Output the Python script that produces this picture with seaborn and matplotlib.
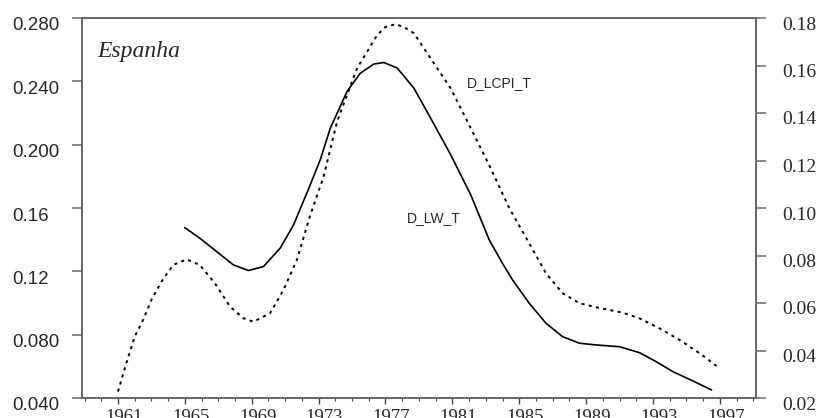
import numpy as np
import pandas as pd
import matplotlib
matplotlib.use("Agg")
import matplotlib.pyplot as plt
import matplotlib.transforms as mtransforms
import seaborn as sns

# D_LW_T (left axis)
lw_years = [1965.0, 1965.9, 1966.9, 1967.9, 1968.8, 1969.7, 1970.7, 1971.5, 1972.4,
            1973.1, 1973.7, 1974.7, 1975.5, 1976.3, 1976.9, 1977.7, 1978.7, 1979.7,
            1980.9, 1982.1, 1983.2, 1984.0, 1984.6, 1985.6, 1986.6, 1987.6, 1988.6,
            1989.6, 1991.0, 1992.2, 1993.2, 1994.2, 1995.4, 1996.5]
lw_values = [0.1476, 0.1409, 0.1325, 0.1241, 0.1205, 0.1230, 0.1346, 0.1493, 0.1720,
             0.1905, 0.2104, 0.2336, 0.2452, 0.2509, 0.2519, 0.2484, 0.2357, 0.2168,
             0.1936, 0.1683, 0.1400, 0.1250, 0.1146, 0.0998, 0.0872, 0.0787, 0.0746,
             0.0735, 0.0724, 0.0686, 0.0629, 0.0566, 0.0507, 0.0451]

# D_LCPI_T (right axis)
cpi_years = [1961.0, 1961.5, 1962.0, 1962.5, 1963.0, 1963.6, 1964.3, 1965.1, 1965.9,
             1966.8, 1967.7, 1968.5, 1969.1, 1970.1, 1970.9, 1971.7, 1972.5, 1973.3,
             1974.1, 1975.3, 1976.5, 1977.0, 1977.6, 1978.1, 1978.7, 1979.7, 1980.9,
             1982.1, 1983.2, 1984.4, 1985.6, 1986.6, 1987.6, 1988.6, 1989.6, 1991.2,
             1992.2, 1993.4, 1994.6, 1995.8, 1996.8]
cpi_values = [0.0227, 0.0346, 0.0458, 0.0528, 0.0613, 0.0690, 0.0760, 0.0784, 0.0760,
              0.0683, 0.0585, 0.0536, 0.0521, 0.0557, 0.0655, 0.0781, 0.0970, 0.1132,
              0.1363, 0.1588, 0.1728, 0.1762, 0.1774, 0.1762, 0.1736, 0.1630, 0.1504,
              0.1336, 0.1181, 0.1000, 0.0851, 0.0725, 0.0641, 0.0599, 0.0582, 0.0559,
              0.0535, 0.0493, 0.0444, 0.0388, 0.0335]

left_ticks = [0.04, 0.08, 0.12, 0.16, 0.20, 0.24, 0.28]
left_labels = ["0.040", "0.080", "0.12", "0.16", "0.200", "0.240", "0.280"]
right_ticks = [0.02, 0.04, 0.06, 0.08, 0.10, 0.12, 0.14, 0.16, 0.18]
right_labels = ["0.02", "0.04", "0.06", "0.08", "0.10", "0.12", "0.14", "0.16", "0.18"]
year_ticks = list(range(1961, 1998, 4))

sns.set_style("white")
plt.rcParams['font.family'] = ['Liberation Sans', 'DejaVu Sans']

fig = plt.figure(figsize=(8.21, 4.18), dpi=100)
ax = fig.add_axes([82 / 821, 1 - 398 / 418, (756 - 82) / 821, (398 - 18) / 418])
ax2 = ax.twinx()

lw_df = pd.DataFrame({"year": lw_years, "value": lw_values})
cpi_df = pd.DataFrame({"year": cpi_years, "value": cpi_values})

sns.lineplot(data=lw_df, x="year", y="value", ax=ax, color="black", linewidth=1.2)
sns.lineplot(data=cpi_df, x="year", y="value", ax=ax2, color="black", linewidth=1.4,
             linestyle=(0, (1.6, 2.2)))

ax.set_xlim(1958.85, 1999.16)
ax.set_ylim(0.04, 0.28)
ax2.set_ylim(0.02, 0.18)
spine_grey = "#666666"
for a in (ax, ax2):
    a.set_xlabel("")
    a.set_ylabel("")
    a.grid(False)
    for s in a.spines.values():
        s.set_color(spine_grey)
        s.set_linewidth(1.2)

ax.set_yticks(left_ticks)
ax.set_yticklabels(left_labels)
ax.tick_params(axis="y", direction="out", length=7.2, width=1.1, color=spine_grey,
               pad=43.2, labelsize=13.5, left=True)
for lab in ax.get_yticklabels():
    lab.set_horizontalalignment("left")
    lab.set_transform(lab.get_transform() +
                      mtransforms.ScaledTranslation(0, -6 / 100, fig.dpi_scale_trans))

ax2.set_yticks(right_ticks)
ax2.set_yticklabels(right_labels)
ax2.tick_params(axis="y", direction="out", length=7.2, width=1.1, color=spine_grey,
                pad=11.5, labelsize=14, right=True)
for lab in ax2.get_yticklabels():
    lab.set_fontfamily("Liberation Serif")
    lab.set_transform(lab.get_transform() +
                      mtransforms.ScaledTranslation(0, -5 / 100, fig.dpi_scale_trans))

# year ticks: labels run off the bottom edge, as in the original
ax.set_xticks(year_ticks)
ax.set_xticklabels([str(y) for y in year_ticks])
ax.set_xticks(list(range(1959, 2000)), minor=True)
ax.tick_params(axis="x", which="major", direction="out", length=4, width=1.0,
               color="#444444", pad=3.6, labelsize=13.5, bottom=True)
ax.tick_params(axis="x", which="minor", direction="out", length=2.5, width=0.8,
               color="#444444", bottom=True)
for lab in ax.get_xticklabels():
    lab.set_fontfamily("Liberation Serif")
    lab.set_transform(lab.get_transform() +
                      mtransforms.ScaledTranslation(6 / 100, 0, fig.dpi_scale_trans))

ax.text(0.023, 0.912, "Espanha", transform=ax.transAxes, fontsize=17,
        family="Liberation Serif", style="italic", va="center", ha="left")
ax.text(1981.87, 0.239, "D_LCPI_T", fontsize=10, va="center", ha="left")
ax.text(1978.28, 0.1538, "D_LW_T", fontsize=10, va="center", ha="left")

fig.savefig("out.png", dpi=100)
